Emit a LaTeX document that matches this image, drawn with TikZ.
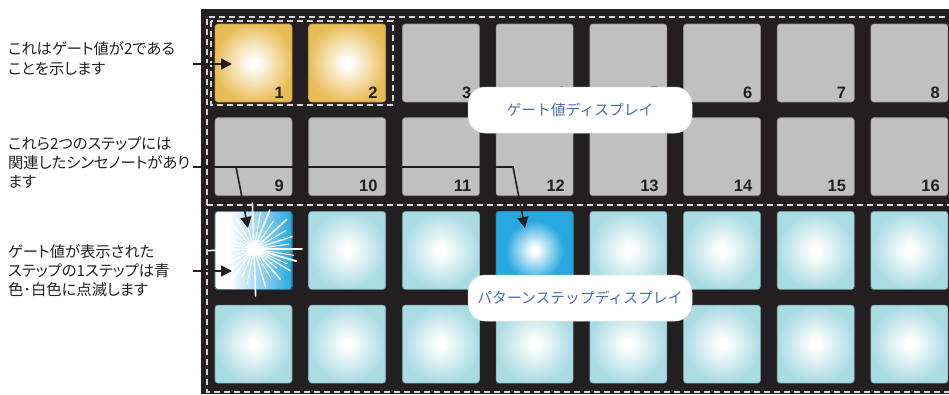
\documentclass[tikz,border=0pt]{standalone}
\usepackage{fontspec}
\newfontfamily\jpfont{Noto Sans CJK JP}[RawFeature=+palt]
\newfontfamily\jptagfont{Noto Sans CJK JP}
\newfontfamily\numfont{Liberation Sans}
\usetikzlibrary{arrows.meta}

\definecolor{panel}{HTML}{231F20}
\definecolor{dashcol}{HTML}{D4D4D4}
\definecolor{gold}{HTML}{E8BC55}
\definecolor{padgray}{HTML}{C0C0C0}
\definecolor{cyanpad}{HTML}{A9DBE3}
\definecolor{bluepad}{HTML}{28A8E0}
\definecolor{labelblue}{HTML}{4A6DB4}
\definecolor{inkcol}{HTML}{231F20}

% glowing pad fills: white centre fading to the pad colour
% (the middle 50bp of a shading spans the shaded path)
\pgfdeclareradialshading{goldglow}{\pgfpointorigin}{color(0bp)=(white); color(2.5bp)=(white); color(26bp)=(gold); color(50bp)=(gold)}
\pgfdeclareradialshading{cyanglow}{\pgfpointorigin}{color(0bp)=(white); color(2.5bp)=(white); color(25bp)=(cyanpad); color(50bp)=(cyanpad)}
\pgfdeclareradialshading{blueglow}{\pgfpointorigin}{color(0bp)=(white); color(2bp)=(white); color(19bp)=(bluepad); color(50bp)=(bluepad)}
\pgfdeclarehorizontalshading{flashfade}{100bp}{color(0bp)=(white); color(34bp)=(white); color(75bp)=(bluepad); color(100bp)=(bluepad)}

\tikzset{
  padshape/.style={rounded corners=3pt},
  padedge/.style={rounded corners=3pt, line width=0.6pt},
  padnum/.style={anchor=base east, inner sep=0pt, text=inkcol,
    font=\numfont\bfseries\fontsize{16.5}{18}\selectfont},
  zone/.style={draw=dashcol, line width=1.2pt, dash pattern=on 6pt off 4pt},
  pointer/.style={draw=inkcol, line width=1.6pt, -{Triangle[length=11pt,width=11pt]}},
  note/.style={anchor=base west, inner sep=0pt, text=inkcol,
    font=\jpfont\fontsize{15.3}{18}\selectfont},
  tag/.style={fill=white, draw=black!12, line width=0.5pt, rounded corners=17pt,
    minimum width=224pt, minimum height=46pt, inner sep=0pt, text=labelblue,
    font=\jptagfont\fontsize{14.8}{16}\selectfont},
}

\begin{document}
\begin{tikzpicture}[x=1pt, y=-1pt]
\useasboundingbox (0,0) rectangle (949,394);

% controller surface
\fill[panel] (201,9) rectangle (949,394);

% pad grid: column pitch 93.7, row pitch 93.7, pad 77 x 78
% row 1: gate value pads
\foreach \i [evaluate=\i as \x using 215+93.7*\i, evaluate=\i as \n using int(\i+1)] in {0,...,7} {
  \ifnum\i<2
    \shade[shading=goldglow, padshape] (\x,24) rectangle ++(77,78);
    \draw[padedge, draw=gold!80!black] (\x,24) rectangle ++(77,78);
  \else
    \fill[padgray, padshape] (\x,24) rectangle ++(77,78);
    \draw[padedge, draw=padgray!75!black] (\x,24) rectangle ++(77,78);
  \fi
  \node[padnum] (num\n) at (\x+77-8,98) {\n};
}
% row 2
\foreach \i [evaluate=\i as \x using 215+93.7*\i, evaluate=\i as \n using int(\i+9)] in {0,...,7} {
  \fill[padgray, padshape] (\x,117.7) rectangle ++(77,78);
  \draw[padedge, draw=padgray!75!black] (\x,117.7) rectangle ++(77,78);
  \node[padnum] (num\n) at (\x+77-8,191.7) {\n};
}
% rows 3 and 4: pattern step pads
\foreach \j in {211.4,305.1} {
  \foreach \i [evaluate=\i as \x using 215+93.7*\i] in {0,...,7} {
    \shade[shading=cyanglow, padshape] (\x,\j) rectangle ++(77,78);
    \draw[padedge, draw=cyanpad!70!black] (\x,\j) rectangle ++(77,78);
  }
}
% current step pad (12) lit blue
\shade[shading=blueglow, padshape] (496.1,211.4) rectangle ++(77,78);
\draw[padedge, draw=bluepad!75!black] (496.1,211.4) rectangle ++(77,78);
% flashing step pad
\shade[shading=flashfade, padshape] (215,211.4) rectangle ++(77,78);
\draw[padedge, draw=bluepad!60!black] (215,211.4) rectangle ++(77,78);
\coordinate (burst) at (254,249);
\fill[white] (burst) circle (6);
\foreach \a/\r/\w in {0/48/1.4, 9/40/1, 16/44/1.8, 24/36/0.9, 31/42/1.3, 40/30/1, 49/40/1.6,
  60/34/1, 73/40/1.3, 88/47/1.6, 101/36/1, 113/30/1.3, 126/40/1.6, 137/33/1,
  151/38/1.3, 164/30/1, 178/46/1.5, 190/34/1, 201/40/1.6, 215/32/1, 228/41/1.3,
  240/35/1, 254/30/1.4, 268/46/1.6, 280/37/1, 292/42/1.5, 305/34/1, 318/44/1.6,
  330/37/1, 342/40/1.3, 352/35/1}
  \draw[white, line width=\w pt, line cap=round] (burst) -- ++(\a:\r);

% display zones
\draw[zone] (955,17) -- (207,17) -- (207,392) -- (955,392);
\draw[zone] (207,205) -- (955,205);
\draw[zone] (211,21) rectangle (393,105);

% zone labels
\node[tag] (gatetag) at (580,110) {ゲート値ディスプレイ};
\node[tag] (steptag) at (580,298) {パターンステップディスプレイ};

% callout texts
\node[note] (t1a) at (8,54) {これはゲート値が2である};
\node[note] (t1b) at (8,74) {ことを示します};
\node[note] (t2a) at (8,149) {これら2つのステップには};
\node[note] (t2b) at (8,168) {関連したシンセノートがあり};
\node[note] (t2c) at (8,187) {ます};
\node[note] (t3a) at (8,257) {ゲート値が表示された};
\node[note] (t3b) at (8,276) {ステップの1ステップは青};
\node[note] (t3c) at (8,295) {色･白色に点滅します};

% callout arrows
\coordinate (p1s) at (193,64);
\coordinate (p1e) at (232,64);
\draw[pointer] (p1s) -- (p1e);

\coordinate (p2s) at (193,167);
\coordinate (p2k) at (513,167);
\coordinate (p2e) at (525,228);
\coordinate (p2b) at (236,167);
\coordinate (p2f) at (248,228);
\draw[pointer] (p2s) -- (p2k) -- (p2e);
\draw[pointer] (p2b) -- (p2f);

\coordinate (p3s) at (193,271);
\coordinate (p3e) at (232,271);
\draw[pointer] (p3s) -- (p3e);
\end{tikzpicture}
\end{document}
